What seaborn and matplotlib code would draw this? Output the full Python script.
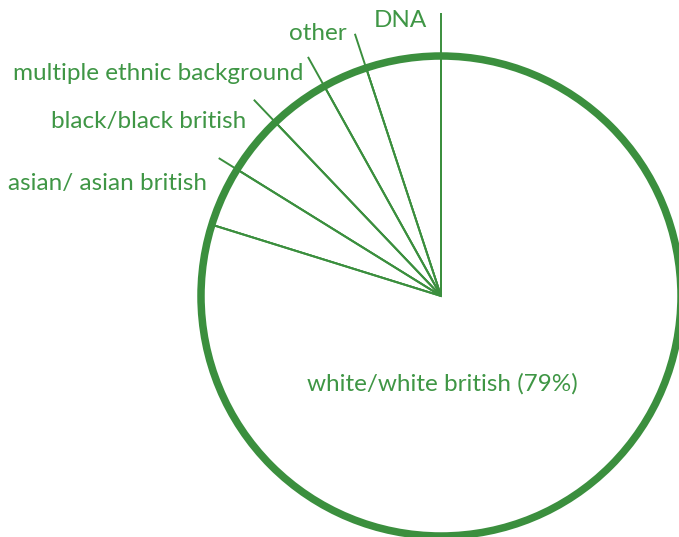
import numpy as np
import matplotlib
matplotlib.use("Agg")
import matplotlib.pyplot as plt
import seaborn as sns
from matplotlib.patches import Circle

# Ethnic background breakdown (percent), drawn counter-clockwise from 12 o'clock
categories = ["DNA", "other", "multiple ethnic background",
              "black/black british", "asian/ asian british", "white/white british"]
values = [5, 3, 4, 4, 4, 79]

GREEN = "#3b8f3e"
TEXT_GREEN = "#3f9645"

sns.set_theme(style="white")
plt.rcParams["font.family"] = ["Lato", "DejaVu Sans"]

fig = plt.figure(figsize=(6.79, 5.37), dpi=100)
ax = fig.add_axes([0, 0, 1, 1])

wedges, _ = ax.pie(values, startangle=90, counterclock=True, radius=1.0,
                   colors=["white"] * len(values),
                   wedgeprops=dict(edgecolor=GREEN, linewidth=1.4))

# leader lines continue each slice's starting edge past the rim
leader_len = [1.18, 1.15, 1.14, 1.13, 1.09, 1.0]
for w, ext in zip(wedges, leader_len):
    a = np.deg2rad(w.theta1)
    ax.plot([0, ext * np.cos(a)], [0, ext * np.sin(a)], color=GREEN,
            lw=1.4, solid_capstyle="butt", zorder=3)

# heavy outer rim
ax.add_patch(Circle((0, 0), 1.0, fill=False, edgecolor=GREEN, lw=5.4, zorder=4))

# label anchors in pixel space of the canvas (right edge, baseline)
cx, cy, R = 441.0, 296.0, 240.0
def to_data(px, py):
    return (px - cx) / R, (cy - py) / R

label_anchor = {
    "DNA": (427, 27),
    "other": (347, 40),
    "multiple ethnic background": (303, 80),
    "black/black british": (246, 128),
    "asian/ asian british": (207, 190),
}
fs = 17.5
for cat, val in zip(categories, values):
    if cat in label_anchor:
        x, y = to_data(*label_anchor[cat])
        ax.text(x, y, cat, ha="right", va="baseline", color=TEXT_GREEN, fontsize=fs)
    else:
        x, y = to_data(442, 391)
        ax.text(x, y, f"{cat} ({val}%)", ha="center", va="baseline",
                color=TEXT_GREEN, fontsize=fs)

ax.set_xlim((0 - cx) / R, (679 - cx) / R)
ax.set_ylim((cy - 537) / R, cy / R)
ax.set_aspect("auto")
ax.axis("off")

fig.savefig("out.png", dpi=100, facecolor="white")
